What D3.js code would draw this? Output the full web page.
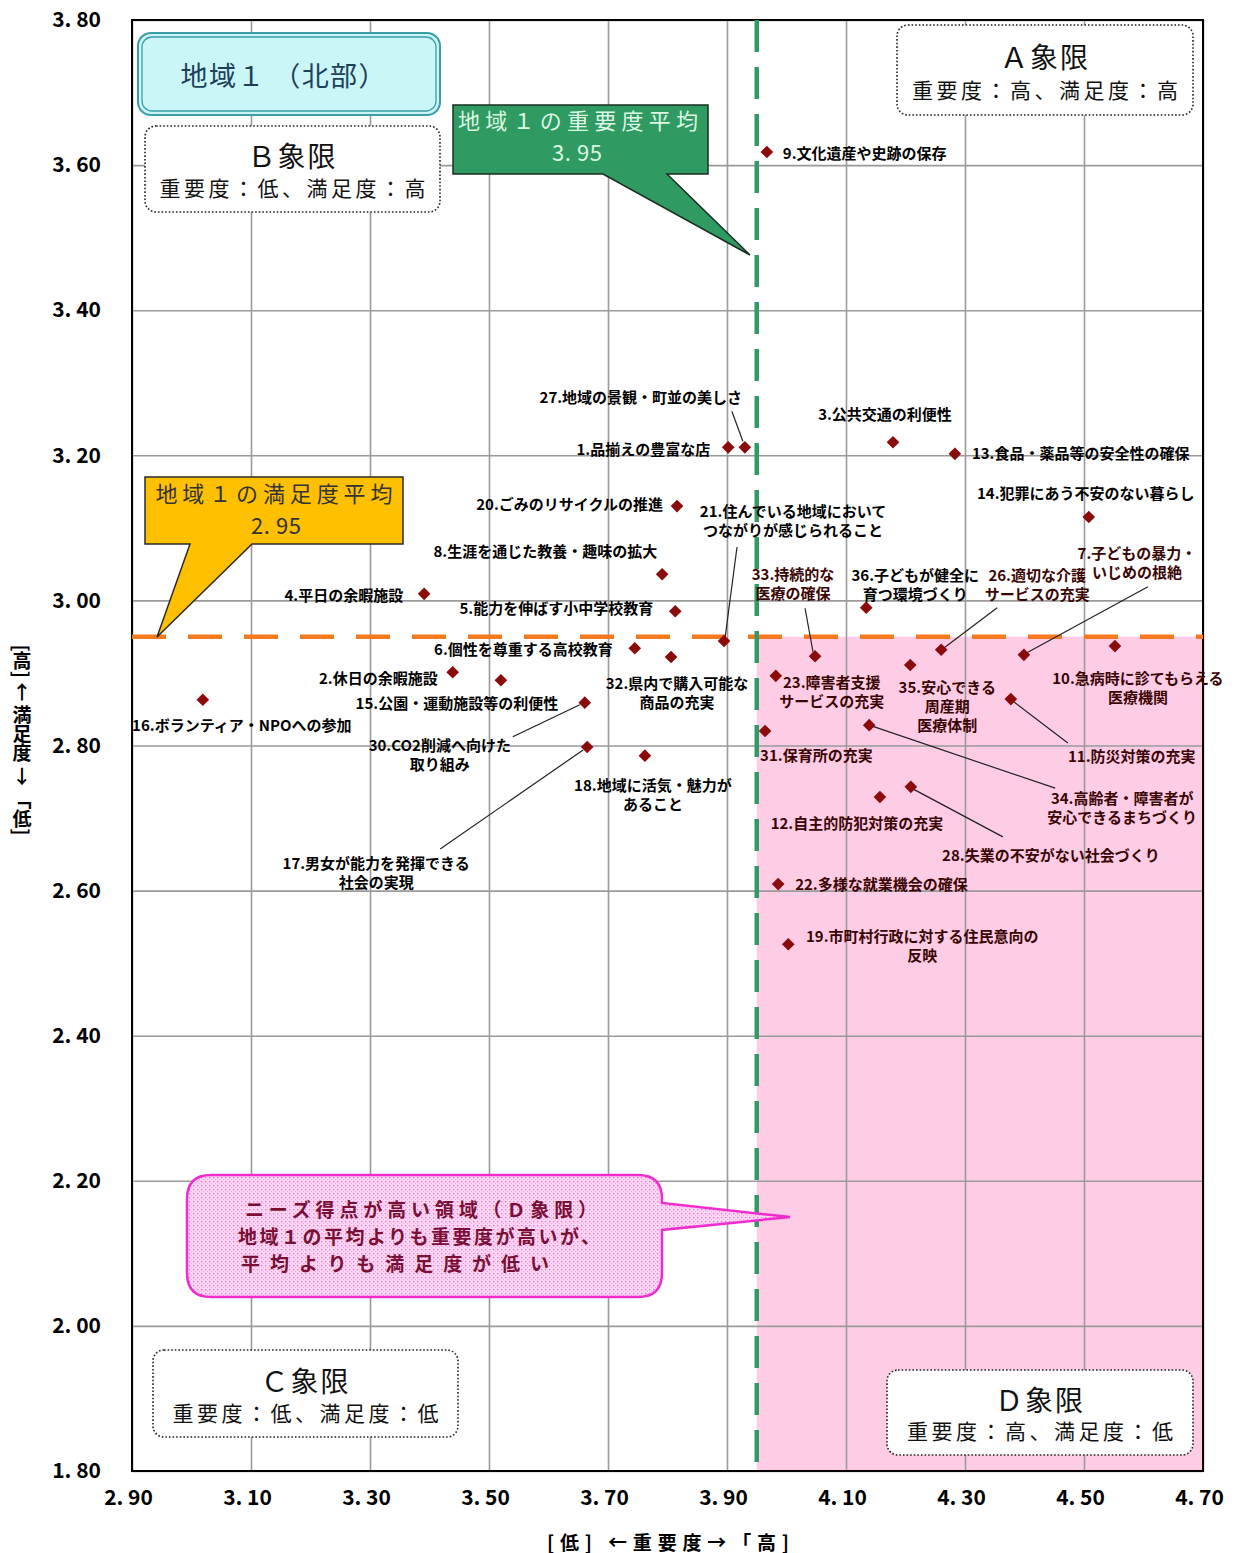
<!DOCTYPE html>
<html><head><meta charset="utf-8">
<script src="https://cdn.jsdelivr.net/npm/d3@7"></script>
<style>
html,body{margin:0;padding:0;background:#fff;}
svg{display:block;}
text{font-family:"Noto Sans CJK JP","Noto Sans",sans-serif;}
</style></head>
<body>
<svg id="chart" width="1236" height="1553"></svg>
<script>
// ---- data ----
const itemLabels = [
"9.文化遺産や史跡の保存","27.地域の景観・町並の美しさ","1.品揃えの豊富な店","3.公共交通の利便性",
"13.食品・薬品等の安全性の確保","14.犯罪にあう不安のない暮らし","20.ごみのリサイクルの推進",
"8.生涯を通じた教養・趣味の拡大","4.平日の余暇施設","5.能力を伸ばす小中学校教育",
"21.住んでいる地域において\nつながりが感じられること","6.個性を尊重する高校教育","32.県内で購入可能な\n商品の充実",
"2.休日の余暇施設","15.公園・運動施設等の利便性","16.ボランティア・NPOへの参加","30.CO2削減へ向けた\n取り組み",
"17.男女が能力を発揮できる\n社会の実現","18.地域に活気・魅力が\nあること","31.保育所の充実","23.障害者支援\nサービスの充実",
"33.持続的な\n医療の確保","36.子どもが健全に\n育つ環境づくり","26.適切な介護\nサービスの充実","35.安心できる\n周産期\n医療体制",
"7.子どもの暴力・\nいじめの根絶","10.急病時に診てもらえる\n医療機関","11.防災対策の充実","34.高齢者・障害者が\n安心できるまちづくり",
"12.自主的防犯対策の充実","28.失業の不安がない社会づくり","22.多様な就業機会の確保","19.市町村行政に対する住民意向の\n反映"
];
const importance = [3.967,3.930,3.902,4.179,4.283,4.508,3.816,3.791,3.391,3.813,3.895,3.745,3.806,3.439,3.520,3.019,3.661,
3.665,3.762,3.964,3.982,4.048,4.134,4.260,4.208,4.399,4.552,4.377,4.139,4.157,4.209,3.986,4.003];
const satisfaction = [3.618,3.211,3.211,3.218,3.202,3.115,3.130,3.036,3.009,2.985,2.944,2.934,2.922,2.901,2.890,2.863,2.859,
2.798,2.786,2.820,2.896,2.923,2.990,2.932,2.911,2.925,2.937,2.864,2.828,2.729,2.743,2.609,2.526];
const importanceMean = 3.95;
const satisfactionMean = 2.95;
const xTicks = [2.9,3.1,3.3,3.5,3.7,3.9,4.1,4.3,4.5,4.7];
const xTickLabels = ["2. 90","3. 10","3. 30","3. 50","3. 70","3. 90","4. 10","4. 30","4. 50","4. 70"];
const yTicks = [1.8,2.0,2.2,2.4,2.6,2.8,3.0,3.2,3.4,3.6,3.8];
const yTickLabels = ["1. 80","2. 00","2. 20","2. 40","2. 60","2. 80","3. 00","3. 20","3. 40","3. 60","3. 80"];

// ---- label placement (pixel offsets from the point) ----
const placement = [
["start",16,0,null],["middle",-104,-51,[-2,-6,-13,-36]],["end",-18,1,null],["middle",-8,-29,null],
["start",17,-1,null],["middle",-3,-24,null],["end",-14,-3,null],["end",-5,-24,null],["end",-21,1,null],
["end",-22,-4,null],["middle",69,-131,[13,-94,1,-3]],["end",-22,0,null],["middle",6,26,null],
["end",-15,5,null],["middle",-44,22,null],["middle",39,25,null],["middle",-145,42,[-72,34,-5,2]],
["middle",-211,116,[-147,102,-4,3]],["middle",8,29,null],["start",-5,24,null],["middle",56,6,null],
["middle",-22,-83,[-10,-48,-2,-4]],["middle",49,-33,null],["middle",96,-75,[56,-42,3,-2]],["middle",37,22,null],
["middle",113,-102,[124,-68,3,-2]],["middle",23,31,null],["middle",121,56,[2,2,57,44]],["middle",253,72,[3,1,186,63]],
["middle",-23,25,null],["middle",140,68,[2,2,92,50]],["start",17,-1,null],["middle",134,-9,null]
];

const svg = d3.select("#chart");
const L=132,R=1203,T=20,B=1471;
const x = d3.scaleLinear().domain([2.9,4.7]).range([L,R]);
const y = d3.scaleLinear().domain([1.8,3.8]).range([B,T]);

// patterns
const defs = svg.append("defs");
const pat = defs.append("pattern").attr("id","dots").attr("width",4).attr("height",4).attr("patternUnits","userSpaceOnUse");
pat.append("rect").attr("width",4).attr("height",4).attr("fill","#ffd6f2");
pat.append("rect").attr("x",1).attr("y",1).attr("width",1.3).attr("height",1.3).attr("fill","#f070d0");
pat.append("rect").attr("x",3).attr("y",3).attr("width",1).attr("height",1).attr("fill","#f9a6e4");

// D quadrant
svg.append("rect").attr("x",x(importanceMean)).attr("y",y(satisfactionMean))
  .attr("width",x(4.7)-x(importanceMean)).attr("height",y(1.8)-y(satisfactionMean)).attr("fill","#ffcce6");

// grid
const gx = svg.append("g").attr("transform",`translate(0,${B})`)
  .call(d3.axisBottom(x).tickValues(xTicks).tickSize(-(B-T)).tickFormat(""));
const gy = svg.append("g").attr("transform",`translate(${L},0)`)
  .call(d3.axisLeft(y).tickValues(yTicks).tickSize(-(R-L)).tickFormat(""));
[gx,gy].forEach(g=>{g.select(".domain").remove();g.selectAll(".tick line").attr("stroke","#9a9a9a").attr("stroke-width",1.6);});

// frame
svg.append("rect").attr("x",L).attr("y",T).attr("width",R-L).attr("height",B-T)
  .attr("fill","none").attr("stroke","#000").attr("stroke-width",2);

// tick labels
const xl = svg.append("g").attr("transform",`translate(0,${B+12})`)
  .call(d3.axisBottom(x).tickValues(xTicks).tickSize(0).tickFormat((d,i)=>xTickLabels[i]));
xl.select(".domain").remove();
xl.selectAll("text").attr("font-size",21).attr("font-weight","bold").attr("fill","#000")
  .attr("font-family","'Liberation Sans',Arial,sans-serif").attr("dy","0.9em").attr("dx","-4");
const yl = svg.append("g").attr("transform",`translate(${L-28},0)`)
  .call(d3.axisLeft(y).tickValues(yTicks).tickSize(0).tickFormat((d,i)=>yTickLabels[i]));
yl.select(".domain").remove();
yl.selectAll("text").attr("font-size",21).attr("font-weight","bold").attr("fill","#000")
  .attr("font-family","'Liberation Sans',Arial,sans-serif");

// axis titles
svg.append("text").attr("x",668).attr("y",1541).attr("text-anchor","middle").attr("dominant-baseline","central")
  .attr("font-size",19).attr("font-weight","bold").attr("textLength",242).attr("lengthAdjust","spacing")
  .text("[低] ←重要度→「高]");
svg.append("text").attr("transform","translate(22,740)").attr("text-anchor","middle")
  .style("writing-mode","vertical-rl").attr("font-size",19).attr("font-weight","bold")
  .attr("dominant-baseline","central").text("[高] ← 満足度 → 「低]");

// mean lines
svg.append("line").attr("x1",L).attr("x2",R).attr("y1",y(satisfactionMean)).attr("y2",y(satisfactionMean))
  .attr("stroke","#f57a1e").attr("stroke-width",4.5).attr("stroke-dasharray","34 22");
svg.append("line").attr("x1",x(importanceMean)).attr("x2",x(importanceMean)).attr("y1",T).attr("y2",B)
  .attr("stroke","#339966").attr("stroke-width",4.5).attr("stroke-dasharray","32 15");

// quadrant boxes
function quadBox(x0,y0,x1,y1,title,sub){
  svg.append("rect").attr("x",x0).attr("y",y0).attr("width",x1-x0).attr("height",y1-y0).attr("rx",11)
    .attr("fill","#fff").attr("stroke","#222").attr("stroke-width",1.6).attr("stroke-dasharray","1.6 2");
  const cx=(x0+x1)/2;
  svg.append("text").attr("x",cx).attr("y",y0+(y1-y0)*0.34).attr("text-anchor","middle").attr("dominant-baseline","central")
    .attr("font-size",28).attr("fill","#111").attr("letter-spacing",2).text(title);
  svg.append("text").attr("x",cx).attr("y",y0+(y1-y0)*0.71).attr("text-anchor","middle").attr("dominant-baseline","central")
    .attr("font-size",21).attr("fill","#111").attr("textLength",266).attr("lengthAdjust","spacing").text(sub);
}
quadBox(145,126,440,212,"Ｂ象限","重要度：低、満足度：高");
quadBox(897,25,1193,115,"Ａ象限","重要度：高、満足度：高");
quadBox(153,1350,458,1437,"Ｃ象限","重要度：低、満足度：低");
quadBox(887,1370,1193,1455,"Ｄ象限","重要度：高、満足度：低");

// title box
svg.append("rect").attr("x",138).attr("y",33).attr("width",302).attr("height",82).attr("rx",13)
  .attr("fill","#cbf6f8").attr("stroke","#3a9ea6").attr("stroke-width",2);
svg.append("rect").attr("x",142).attr("y",37).attr("width",294).attr("height",74).attr("rx",10)
  .attr("fill","none").attr("stroke","#3a9ea6").attr("stroke-width",1.3);
svg.append("text").attr("x",283).attr("y",74).attr("text-anchor","middle").attr("dominant-baseline","central")
  .attr("font-size",27).attr("fill","#1d3f58").attr("textLength",205).attr("lengthAdjust","spacing").text("地域１ （北部）");

// green callout (importance mean)
svg.append("path").attr("d","M453,105 H708 V174 H667 L750,255 L603,174 H453 Z")
  .attr("fill","#2f9a62").attr("stroke","#1a2e22").attr("stroke-width",1.5);
svg.append("text").attr("x",578).attr("y",119).attr("text-anchor","middle").attr("dominant-baseline","central")
  .attr("font-size",22).attr("fill","#dcf7e4").attr("textLength",240).attr("lengthAdjust","spacing").text("地域１の重要度平均");
svg.append("text").attr("x",577).attr("y",151).attr("text-anchor","middle").attr("dominant-baseline","central")
  .attr("font-size",22).attr("fill","#dcf7e4").attr("textLength",50).attr("lengthAdjust","spacing").text("3. 95");

// yellow callout (satisfaction mean)
svg.append("path").attr("d","M145,477 H403 V544 H252 L157,637 L190,544 H145 Z")
  .attr("fill","#ffc000").attr("stroke","#2a2a2a").attr("stroke-width",1.5);
svg.append("text").attr("x",274).attr("y",492).attr("text-anchor","middle").attr("dominant-baseline","central")
  .attr("font-size",22).attr("fill","#333").attr("textLength",237).attr("lengthAdjust","spacing").text("地域１の満足度平均");
svg.append("text").attr("x",276).attr("y",524).attr("text-anchor","middle").attr("dominant-baseline","central")
  .attr("font-size",22).attr("fill","#333").attr("textLength",50).attr("lengthAdjust","spacing").text("2. 95");

// pink callout
(function(){
  const x0=187,x1=662,y0=1175,y1=1297,r=24;
  const d=`M${x0+r},${y0} H${x1-r} Q${x1},${y0} ${x1},${y0+r} V1203 L790,1217 L${x1},1230 V${y1-r} Q${x1},${y1} ${x1-r},${y1} H${x0+r} Q${x0},${y1} ${x0},${y1-r} V${y0+r} Q${x0},${y0} ${x0+r},${y0} Z`;
  svg.append("path").attr("d",d).attr("fill","url(#dots)").attr("stroke","#f02ccf").attr("stroke-width",2.5);
  const lines=["ニーズ得点が高い領域（Ｄ象限）","地域１の平均よりも重要度が高いが、","平均よりも満足度が低い"];
  const cxs=[421,419,395], lens=[352,362,308];
  lines.forEach((t,i)=>svg.append("text").attr("x",cxs[i]).attr("y",1208+i*27).attr("text-anchor","middle")
    .attr("dominant-baseline","central").attr("font-size",19).attr("font-weight","bold").attr("fill","#7a0f35")
    .attr("textLength",lens[i]).attr("lengthAdjust","spacing").text(t));
})();

// points + labels
const items = itemLabels.map((n,i)=>({name:n,imp:importance[i],sat:satisfaction[i],p:placement[i]}));
const lab = svg.append("g");
items.forEach(d=>{
  const px=x(d.imp), py=y(d.sat);
  const [anchor,dx,dy,leader]=d.p;
  if(leader){
    lab.append("line").attr("x1",px+leader[0]).attr("y1",py+leader[1]).attr("x2",px+leader[2]).attr("y2",py+leader[3])
      .attr("stroke","#222").attr("stroke-width",1.2);
  }
  const inD = d.imp>=importanceMean && d.sat<satisfactionMean;
  const t = lab.append("text").attr("text-anchor",anchor).attr("font-size",15).attr("font-weight","bold")
    .attr("fill",inD?"#3a0505":"#000").attr("letter-spacing",0);
  d.name.split("\n").forEach((s,k)=>{
    t.append("tspan").attr("x",px+dx).attr("y",py+dy+k*19).attr("dominant-baseline","central").text(s);
  });
});
svg.append("g").selectAll("path").data(items).join("path")
  .attr("d",d3.symbol(d3.symbolSquare,80)())
  .attr("transform",d=>`translate(${x(d.imp)},${y(d.sat)}) rotate(45)`)
  .attr("fill","#8b0a0a");
</script>
</body></html>
